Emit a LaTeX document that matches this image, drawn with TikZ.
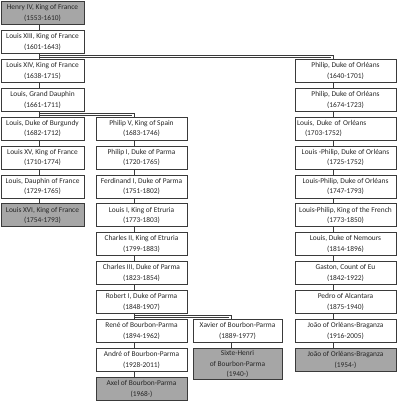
\documentclass[tikz,border=0pt]{standalone}
\usepackage{fontspec}
\setmainfont{Carlito}
\usetikzlibrary{calc}
\definecolor{boxgray}{HTML}{A6A6A6}
\definecolor{edge}{HTML}{3A3A3A}
\definecolor{txt}{HTML}{262626}
\tikzset{
  box/.style={draw=edge, line width=0.8pt, fill=white, minimum height=23pt, inner sep=0pt,
    align=center, font=\fontsize{7.4}{10.6}\selectfont, text=txt},
  gbox/.style={box, fill=boxgray},
  colL/.style={minimum width=83pt},
  colM/.style={minimum width=91pt},
  colX/.style={minimum width=89pt},
  colR/.style={minimum width=101pt},
  link/.style={draw=edge, line width=0.8pt}
}
\begin{document}
\begin{tikzpicture}[x=1pt,y=-1pt]
\useasboundingbox (0,0) rectangle (400,401);
% left column
\node[gbox,colL] (l0) at (42.5,13) {Henry IV, King of France\\(1553-1610)};
\node[box,colL] (l1) at (42.5,41.9) {Louis XIII, King of France\\(1601-1643)};
\node[box,colL] (l2) at (42.5,70.8) {Louis XIV, King of France\\(1638-1715)};
\node[box,colL] (l3) at (42.5,99.7) {Louis, Grand Dauphin\\(1661-1711)};
\node[box,colL] (l4) at (42.5,128.6) {Louis, Duke of Burgundy\\(1682-1712)};
\node[box,colL] (l5) at (42.5,157.5) {Louis XV, King of France\\(1710-1774)};
\node[box,colL] (l6) at (42.5,186.4) {Louis, Dauphin of France\\(1729-1765)};
\node[gbox,colL] (l7) at (42.5,215.3) {Louis XVI, King of France\\(1754-1793)};
% middle column
\node[box,colM] (m4) at (141.5,128.6) {Philip V, King of Spain\\(1683-1746)};
\node[box,colM] (m5) at (141.5,157.5) {Philip I, Duke of Parma\\(1720-1765)};
\node[box,colM] (m6) at (141.5,186.4) {Ferdinand I, Duke of Parma\\(1751-1802)};
\node[box,colM] (m7) at (141.5,215.3) {Louis I, King of Etruria\\(1773-1803)};
\node[box,colM] (m8) at (141.5,244.2) {Charles II, King of Etruria\\(1799-1883)};
\node[box,colM] (m9) at (141.5,273.1) {Charles III, Duke of Parma\\(1823-1854)};
\node[box,colM] (m10) at (141.5,302) {Robert I, Duke of Parma\\(1848-1907)};
\node[box,colM] (m11) at (141.5,330.9) {René of Bourbon-Parma\\(1894-1962)};
\node[box,colM] (m12) at (141.5,359.8) {André of Bourbon-Parma\\(1928-2011)};
\node[gbox,colM] (m13) at (141.5,388.7) {Axel of Bourbon-Parma\\(1968-)};
% Xavier column
\node[box,colX] (x11) at (237.5,330.9) {Xavier of Bourbon-Parma\\(1889-1977)};
\node[gbox,colX,minimum height=31pt,anchor=north] (x12) at (237.5,348.3) {Sixte-Henri\\of Bourbon-Parma\\(1940-)};
% right column
\node[box,colR] (r2) at (345.5,70.8) {Philip, Duke of Orléans\\(1640-1701)};
\node[box,colR] (r3) at (345.5,99.7) {Philip, Duke of Orléans\\(1674-1723)};
\node[box,colR,text width=97pt,inner xsep=2pt,align=left] (r4) at (345.5,128.6) {Louis, Duke of Orléans\\\hspace*{8pt}(1703-1752)};
\node[box,colR] (r5) at (345.5,157.5) {Louis -Philip, Duke of Orléans\\(1725-1752)};
\node[box,colR] (r6) at (345.5,186.4) {Louis-Philip, Duke of Orléans\\(1747-1793)};
\node[box,colR] (r7) at (345.5,215.3) {Louis-Philip, King of the French\\(1773-1850)};
\node[box,colR] (r8) at (345.5,244.2) {Louis, Duke of Nemours\\(1814-1896)};
\node[box,colR] (r9) at (345.5,273.1) {Gaston, Count of Eu\\(1842-1922)};
\node[box,colR] (r10) at (345.5,302) {Pedro of Alcantara\\(1875-1940)};
\node[box,colR] (r11) at (345.5,330.9) {João of Orléans-Braganza\\(1916-2005)};
\node[gbox,colR] (r12) at (345.5,359.8) {João of Orléans-Braganza\\(1954-)};
% straight connectors
\foreach \a/\b in {l0/l1,l1/l2,l2/l3,l3/l4,l4/l5,l5/l6,l6/l7,
  m4/m5,m5/m6,m6/m7,m7/m8,m8/m9,m9/m10,m10/m11,m11/m12,m12/m13,
  x11/x12,
  r2/r3,r3/r4,r4/r5,r5/r6,r6/r7,r7/r8,r8/r9,r9/r10,r10/r11,r11/r12}
  \draw[link] ([xshift=39pt]\a.south west) -- ([xshift=39pt]\b.north west);
% branch connectors (doubled elbow lines)
\foreach \a/\b in {l1/r2,l3/m4,m10/x11}{
  \coordinate (s) at ([xshift=39pt]\a.south west);
  \coordinate (t) at ([xshift=39pt]\b.north west);
  \path (t |- s) coordinate (u);
  \draw[link] (s) -- ++(0pt,-1.6pt) -| (t);
  \draw[link] ($(s)+(0pt,-3.8pt)$) -- ($(u)+(-2.2pt,-3.8pt)$);
}
\end{tikzpicture}
\end{document}
